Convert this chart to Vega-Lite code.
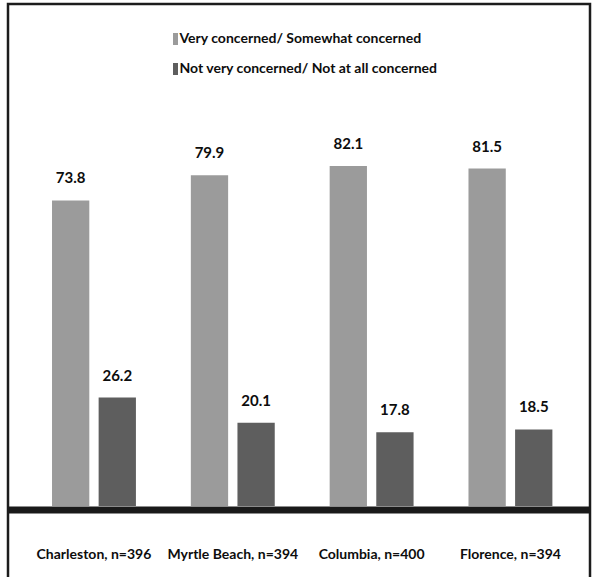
{
  "$schema": "https://vega.github.io/schema/vega-lite/v6.json",
  "width": 582,
  "height": 577,
  "autosize": "none",
  "padding": {"left": 8, "top": 4, "right": 3, "bottom": -4},
  "background": "white",
  "config": {
    "view": {"stroke": "#1c1c1c", "strokeWidth": 2.5},
    "font": "Lato, sans-serif"
  },
  "data": {
    "values": [
      {"city": "Charleston, n=396", "group": "Very concerned/ Somewhat concerned", "value": 73.8},
      {"city": "Charleston, n=396", "group": "Not very concerned/ Not at all concerned", "value": 26.2},
      {"city": "Myrtle Beach, n=394", "group": "Very concerned/ Somewhat concerned", "value": 79.9},
      {"city": "Myrtle Beach, n=394", "group": "Not very concerned/ Not at all concerned", "value": 20.1},
      {"city": "Columbia, n=400", "group": "Very concerned/ Somewhat concerned", "value": 82.1},
      {"city": "Columbia, n=400", "group": "Not very concerned/ Not at all concerned", "value": 17.8},
      {"city": "Florence, n=394", "group": "Very concerned/ Somewhat concerned", "value": 81.5},
      {"city": "Florence, n=394", "group": "Not very concerned/ Not at all concerned", "value": 18.5}
    ]
  },
  "encoding": {
    "x": {
      "field": "city",
      "type": "nominal",
      "sort": null,
      "scale": {"paddingInner": 0, "paddingOuter": 0.0962, "align": 0.62},
      "axis": {
        "title": null,
        "orient": "bottom",
        "offset": -71.5,
        "zindex": 1,
        "domainWidth": 7,
        "domainColor": "#1a1a1a",
        "domainCap": "butt",
        "ticks": false,
        "labelAngle": 0,
        "labelPadding": 38,
        "labelFontSize": 14,
        "labelFontWeight": "bold",
        "labelColor": "#0d0d0d",
        "labelLimit": 0
      }
    },
    "xOffset": {
      "field": "group",
      "type": "nominal",
      "sort": null,
      "scale": {"paddingInner": 0.2, "paddingOuter": 0.589}
    }
  },
  "layer": [
    {
      "mark": {"type": "bar"},
      "encoding": {
        "y": {
          "field": "value",
          "type": "quantitative",
          "scale": {"domain": [-18.12, 121.26], "nice": false, "zero": false},
          "axis": null
        },
        "y2": {"datum": 0},
        "color": {
          "field": "group",
          "type": "nominal",
          "sort": null,
          "scale": {
            "domain": ["Very concerned/ Somewhat concerned", "Not very concerned/ Not at all concerned"],
            "range": ["#9b9b9b", "#5e5e5e"]
          },
          "legend": {
            "title": null,
            "orient": "none",
            "legendX": 160.5,
            "legendY": 28,
            "padding": 0,
            "symbolType": "M-0.42,-1H0.42V1H-0.42Z",
            "symbolSize": 144,
            "symbolStrokeWidth": 0,
            "labelOffset": -3,
            "labelFontSize": 14,
            "labelFontWeight": "bold",
            "labelColor": "#0d0d0d",
            "labelLimit": 0,
            "rowPadding": 16
          }
        }
      }
    },
    {
      "mark": {"type": "text", "dy": -17, "baseline": "alphabetic", "fontSize": 15, "fontWeight": "bold", "color": "#0d0d0d"},
      "encoding": {
        "y": {"field": "value", "type": "quantitative"},
        "text": {"field": "value", "type": "quantitative", "format": ".1f"}
      }
    }
  ]
}
